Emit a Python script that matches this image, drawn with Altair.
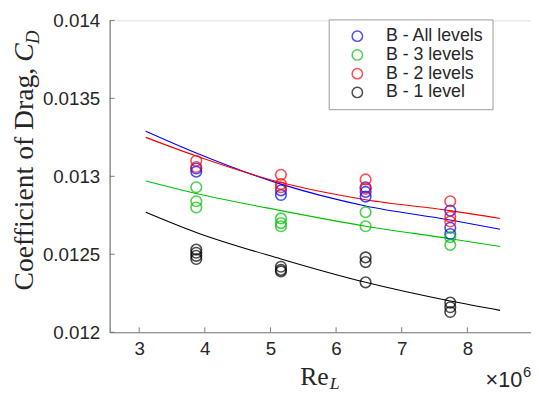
import altair as alt
import pandas as pd

# ---------------- data ----------------
series_names = ["B - All levels", "B - 3 levels", "B - 2 levels", "B - 1 level"]
series_colors = ["#0000ff", "#00c000", "#ff0000", "#000000"]

re_vals = [3.87, 5.16, 6.45, 7.74]  # x 10^6

all_levels = {3.87: [0.01303, 0.01305], 5.16: [0.01288, 0.01291],
              6.45: [0.01293, 0.01290, 0.01287], 7.74: [0.01278, 0.01267, 0.01263]}
three_levels = {3.87: [0.01293, 0.01284, 0.01280], 5.16: [0.01273, 0.01270, 0.01268],
                6.45: [0.01277, 0.01268], 7.74: [0.01261, 0.01256]}
two_levels = {3.87: [0.01310, 0.01306], 5.16: [0.01301, 0.01295, 0.01293],
              6.45: [0.01298, 0.01292], 7.74: [0.01284, 0.01274, 0.01271]}
one_level = {3.87: [0.01253, 0.01251, 0.01249, 0.01247], 5.16: [0.01242, 0.01240, 0.01239],
             6.45: [0.01248, 0.01245, 0.01232], 7.74: [0.01219, 0.01216, 0.01213]}

fit_x = [3.1, 3.87, 5.16, 6.45, 7.74, 8.5]
fit_all = [0.01329, 0.01315, 0.01295, 0.01281, 0.01272, 0.01266]
fit_three = [0.01297, 0.01289, 0.01278, 0.01268, 0.01260, 0.01255]
fit_two = [0.01325, 0.01313, 0.01296, 0.01285, 0.01278, 0.01273]
fit_one = [0.01277, 0.01264, 0.01247, 0.01232, 0.01220, 0.01214]

x_ticks = [3, 4, 5, 6, 7, 8]
y_ticks = [0.012, 0.0125, 0.013, 0.0135, 0.014]

# ---------------- tables ----------------
rows = []
for name, d in zip(series_names, [all_levels, three_levels, two_levels, one_level]):
    for x, ys in d.items():
        for y in ys:
            rows.append({"Re": x, "CD": y, "series": name})
pts = pd.DataFrame(rows)

frows = []
for name, ys in zip(series_names, [fit_all, fit_three, fit_two, fit_one]):
    for x, y in zip(fit_x, ys):
        frows.append({"Re": x, "CD": y, "series": name})
fits = pd.DataFrame(frows)

W, H = 427, 316
XDOM = [2.55, 8.97]
YDOM = [0.012, 0.014]
AX = "#7a7a7a"
TXT = "#262626"

xs = alt.X("Re:Q", scale=alt.Scale(domain=XDOM, nice=False, zero=False),
           axis=alt.Axis(values=x_ticks, ticks=False, grid=False, domainColor=AX,
                         domainWidth=1.2, labelFont="Liberation Sans", labelFontSize=19,
                         labelColor=TXT, labelPadding=8, title=None, format="d"))
ys_ = alt.Y("CD:Q", scale=alt.Scale(domain=YDOM, nice=False, zero=False),
            axis=alt.Axis(values=y_ticks, ticks=False, grid=False, domainColor=AX,
                          domainWidth=1.2, labelFont="Liberation Sans", labelFontSize=19,
                          labelColor=TXT, labelPadding=10, title=None,
                          labelExpr="format(datum.value, '.4~f')"))

color = alt.Color("series:N",
                  scale=alt.Scale(domain=series_names, range=series_colors),
                  legend=alt.Legend(title=None, orient="none", legendX=222, legendY=-1,
                                    strokeColor="#9a9a9a", padding=8, symbolOffset=12,
                                    symbolType="circle", symbolSize=110,
                                    symbolStrokeWidth=1.5, symbolFillColor="transparent",
                                    labelFont="Liberation Sans", labelFontSize=18,
                                    labelColor=TXT, labelOffset=20, rowPadding=1,
                                    fillColor="white"))

lines = alt.Chart(fits).mark_line(strokeWidth=1.1, interpolate="monotone", clip=True).encode(
    x=xs, y=ys_, color=color, detail="series:N")

points = alt.Chart(pts).mark_point(shape="circle", filled=False, size=115, strokeWidth=1.6).encode(
    x=xs, y=ys_, color=color)

xt = alt.Chart(pd.DataFrame({"Re": x_ticks})).mark_rule(color=AX, strokeWidth=1).encode(
    x=xs, y=alt.value(H), y2=alt.value(H - 5))
yt = alt.Chart(pd.DataFrame({"CD": y_ticks})).mark_rule(color=AX, strokeWidth=1).encode(
    y=ys_, x=alt.value(0), x2=alt.value(5))

def label(text, x, y, size, font="Liberation Serif", style="normal", align="left", angle=0):
    return alt.Chart(pd.DataFrame({"s": [text]})).mark_text(
        font=font, fontSize=size, fontStyle=style, align=align, baseline="alphabetic",
        angle=angle, color=TXT).encode(text="s:N", x=alt.value(x), y=alt.value(y))

# y-axis title (rotated), positions relative to plot area
ytitle1 = label("Coefficient of Drag,", -78, 48, 28, align="right", angle=270)
ytitle2 = label("C", -78, 42, 28, style="italic", align="left", angle=270)
ytitle3 = label("D", -72, 24, 19, style="italic", align="left", angle=270)

# x-axis title
xtitle1 = label("Re", 222, 369, 26, align="right")
xtitle2 = label("L", 223, 374, 18, style="italic", align="left")

# exponent
exp1 = label("\u00d710", 381, 372, 22, font="Liberation Sans", align="left")
exp2 = label("6", 419, 361, 15, font="Liberation Sans", align="left")

chart = alt.layer(lines, points, xt, yt, ytitle1, ytitle2, ytitle3, xtitle1, xtitle2, exp1, exp2).properties(
    width=W, height=H,
    autosize=alt.AutoSizeParams(type="none"),
    padding={"left": 103, "top": 10, "right": 0, "bottom": 59},
).configure_view(stroke=None).configure(background="white")

chart.save("out.html", embed_options={"renderer": "svg", "actions": False})
